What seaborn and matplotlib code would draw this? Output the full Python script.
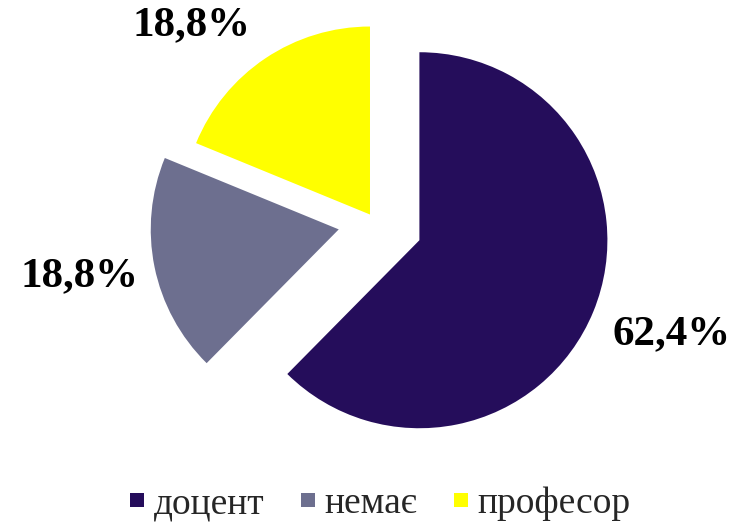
import matplotlib
matplotlib.use("Agg")
import matplotlib.pyplot as plt
from matplotlib.lines import Line2D
import seaborn as sns

# Data
CATEGORIES = ["доцент", "немає", "професор"]
SHARES = [62.4, 18.8, 18.8]
COLORS = ["#250D5B", "#6D6F8F", "#FFFF00"]

# Layout (pixel-sized axes, y up)
W, H = 748, 523
CENTER = (375, H - 222)
RADIUS = 188
EXPLODE = [48, 37, 9]
# small per-label nudges (pixels) on top of the pie's own placement
LABEL_SHIFT = [(5, 7), (2, 7), (-30, -32)]

sns.set_theme(style="white")
plt.rcParams["font.family"] = ["Liberation Serif", "DejaVu Serif"]

fig = plt.figure(figsize=(W / 100, H / 100), dpi=100)
ax = fig.add_axes([0, 0, 1, 1])

wedges, texts, autotexts = ax.pie(
    SHARES,
    colors=sns.color_palette(COLORS),
    explode=EXPLODE,
    center=CENTER,
    radius=RADIUS,
    startangle=90,
    counterclock=False,
    autopct=lambda p: f"{p:.1f}%".replace(".", ","),
    pctdistance=1.42,
    wedgeprops=dict(linewidth=0),
    textprops=dict(fontsize=31, fontweight="bold", color="black"),
)

for t, (dx, dy) in zip(autotexts, LABEL_SHIFT):
    x, y = t.get_position()
    t.set_position((x + dx, y + dy))

ax.set_xlim(0, W)
ax.set_ylim(0, H)
ax.set_aspect("auto")
ax.axis("off")

handles = [Line2D([], [], marker="s", linestyle="none", markersize=10,
                  markerfacecolor=c, markeredgewidth=0) for c in COLORS]
fig.legend(handles, CATEGORIES, loc="center", bbox_to_anchor=(0.507, 1 - 504 / H),
           ncol=3, frameon=False, fontsize=27, handletextpad=0.2,
           columnspacing=0.9, handlelength=0.5, borderpad=0)

fig.savefig("out.png", dpi=100)
